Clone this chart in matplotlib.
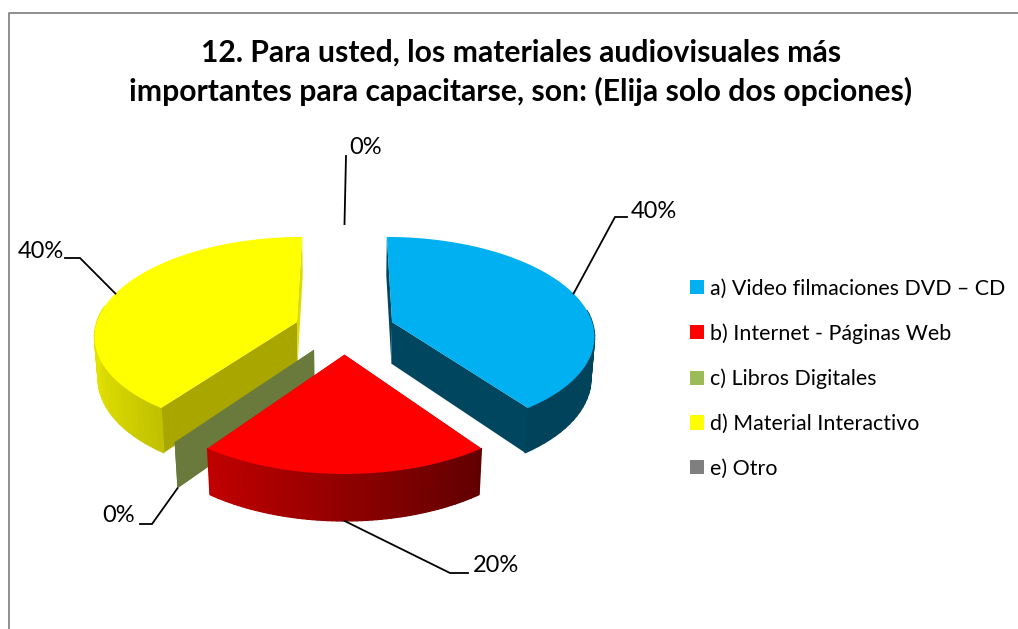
import numpy as np
import matplotlib
matplotlib.use("Agg")
import matplotlib.pyplot as plt
from matplotlib.patches import Patch
from matplotlib.collections import PolyCollection

title = "12. Para usted, los materiales audiovisuales más\nimportantes para capacitarse, son: (Elija solo dos opciones)"
categories = ["a) Video filmaciones DVD – CD", "b) Internet - Páginas Web", "c) Libros Digitales",
              "d) Material Interactivo", "e) Otro"]
values = [40, 20, 0, 40, 0]

colors = ["#00b0f0", "#ff0000", "#9bbb59", "#ffff00", "#7f7f7f"]
start_face_colors = ["#00465f", "#aa0000", "#697a3c", "#aaa600", "#555555"]
end_face_colors = ["#00465f", "#aa0000", "#697a3c", "#dcdc00", "#555555"]

# where the percent text sits and the elbow of its leader, in pixels
label_pos = [(654, 211), (496, 566), (119, 516), (41, 252), (366, 148)]
elbows = [[(615, 217), (627, 217)], [(450, 573), (468, 573)], [(152, 524), (140, 524)],
          [(80, 258), (65, 258)], [(346, 156)]]

# projection of the tilted pie
cx, cy = 344.5, 329.5
rx, ry = 202, 97.5
depth = 42.5
persp, persp_z = 0.125, 0.015
explode = 0.25


def project(X, U, Z=0.0):
    s = 1 / (1 - persp * np.asarray(U) + persp_z * Z)
    return cx + rx * np.asarray(X) * s, cy + (ry * np.asarray(U) + depth * Z) * s


def rim(a, off):
    return off[0] + np.sin(a), off[1] - np.cos(a)


def darker(color, factor):
    return tuple(c * factor for c in matplotlib.colors.to_rgb(color))


fig = plt.figure(figsize=(10.18, 6.29), dpi=100)
ax = fig.add_axes([0, 0, 1, 1])
ax.set_xlim(0, 1018)
ax.set_ylim(629, 0)
ax.axis("off")

plt.rcParams["font.family"] = "Lato"

# chart border, open on the right and the bottom
ax.plot([9, 9, 1018], [629, 12.5, 12.5], color="#868686", lw=1.3, solid_capstyle="butt")

edges = np.radians(np.cumsum([0] + values) * 3.6)
mids = (edges[:-1] + edges[1:]) / 2
offsets = [(explode * np.sin(m), -explode * np.cos(m)) for m in mids]

# back to front: a, e, d, c, b
for i in [0, 4, 3, 2, 1]:
    off = offsets[i]
    t = np.linspace(edges[i], edges[i + 1], 60)
    X, U = rim(t, off)
    x0, y0 = project(X, U)
    x1, y1 = project(X, U, 1.0)

    # the two cut faces
    ax_, ay_ = project(off[0], off[1])
    bx_, by_ = project(off[0], off[1], 1.0)
    ax.fill([ax_, x0[0], x1[0], bx_], [ay_, y0[0], y1[0], by_], color=start_face_colors[i], lw=0)
    ax.fill([ax_, x0[-1], x1[-1], bx_], [ay_, y0[-1], y1[-1], by_], color=end_face_colors[i], lw=0)

    if values[i] == 0:
        continue

    # outer wall, shaded strip by strip, back part is hidden anyway
    polys = []
    strip_colors = []
    for j in range(len(t) - 1):
        if np.cos(t[j]) > 0.15:
            continue
        polys.append([(x0[j], y0[j]), (x0[j + 1], y0[j + 1]), (x1[j + 1], y1[j + 1]), (x1[j], y1[j])])
        strip_colors.append(darker(colors[i], max(0.38, 0.57 - 0.32 * np.sin(t[j]))))
    ax.add_collection(PolyCollection(polys, facecolors=strip_colors, edgecolors=strip_colors, linewidths=1.0))

    # top face
    ax.fill(np.r_[ax_, x0], np.r_[ay_, y0], color=colors[i], lw=0)

# percent labels with leaders
for i, v in enumerate(values):
    X, U = rim(mids[i], offsets[i])
    # the front slices start their leader on the lower rim
    lower = 1.0 if np.cos(mids[i]) < -0.5 else 0.0
    sx, sy = project(X, U, lower)
    pts = [(sx, sy)] + elbows[i]
    ax.plot([p[0] for p in pts], [p[1] for p in pts], color="black", lw=1.3, solid_joinstyle="miter")
    ax.text(label_pos[i][0], label_pos[i][1], f"{v}%", fontsize=17, ha="center", va="center", color="black")

ax.text(521, 72, title, fontsize=21.7, fontweight="bold", ha="center", va="center", linespacing=1.43, color="black")

handles = [Patch(facecolor=c, edgecolor="none") for c in colors]
ax.legend(handles, categories, loc="upper left", bbox_to_anchor=(684 / 1018, 1 - 272 / 629), frameon=False,
          fontsize=15.4, handlelength=0.65, handleheight=0.65, handletextpad=0.28, labelspacing=1.16,
          borderaxespad=0, borderpad=0.3)

fig.savefig("out.png", dpi=100)
